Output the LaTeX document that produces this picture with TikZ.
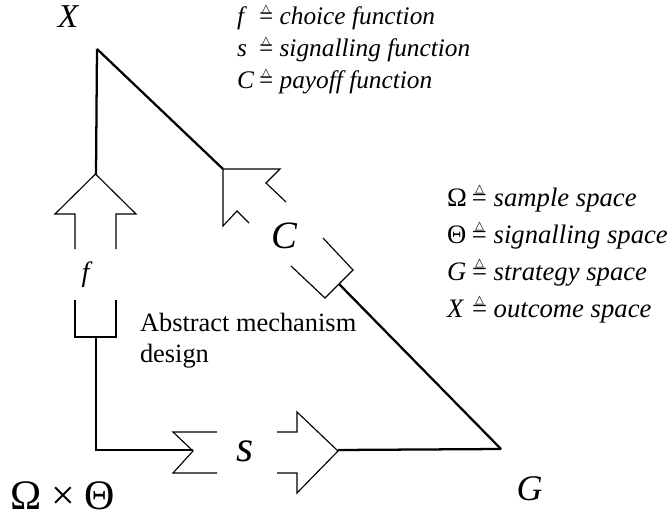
\documentclass[tikz,border=0pt]{standalone}
\usepackage{fontspec}
\setmainfont{Liberation Serif}
\newfontfamily\dejavu{DejaVu Sans}
\newcommand\eqdef{\mbox{\ooalign{=\cr\hidewidth\smash{\raisebox{0.5em}{\dejavu\fontsize{8.7}{8.7}\selectfont △}}\hidewidth\cr}}}
\newcommand\legline[3]{\makebox[#3][l]{#1}\eqdef\ \textit{#2}}
\tikzset{
  lbl/.style={inner sep=0pt, outer sep=0pt},
  mainline/.style={line width=1.7pt, line join=miter},
  outline/.style={line width=0.85pt, line join=miter},
}
\begin{document}
\begin{tikzpicture}[x=0.75pt,y=-0.75pt]
\path[use as bounding box] (0,0) rectangle (671,517);

% vertices
\coordinate (vX) at (97,49);
\coordinate (vO) at (96,450);
\coordinate (vG) at (501,449);
% arrow attachment points
\coordinate (fTip) at (96,174);
\coordinate (fTail) at (96,337);
\coordinate (sTail) at (193,450);
\coordinate (sTip) at (338,450);
\coordinate (cTip) at (223,169);
\coordinate (cTail) at (339,284);

% main lines
\draw[mainline] (vX) -- (fTip);
\draw[mainline] (fTail) -- (vO) -- (sTail);
\draw[mainline] (sTip) -- (vG);
\draw[mainline] (vX) -- (cTip);
\draw[mainline] (cTail) -- (vG);

% up arrow f
\draw[outline] (75,249) -- (75,214) -- (55,214) -- (95.5,174) -- (136,214) -- (116,214) -- (116,249);
\draw[outline] (75,300) -- (75,337) -- (116,337) -- (116,300);
\node[lbl, anchor=base, font=\fontsize{21}{21}\selectfont\itshape] (f) at (85.5,281) {f};

% horizontal arrow s
\draw[outline] (217,432) -- (173,432) -- (193,451) -- (173,473) -- (217,473);
\draw[outline] (277,432) -- (297,432) -- (297,412) -- (338,451) -- (297,493) -- (297,473) -- (277,473);
\node[lbl, anchor=base, font=\fontsize{33}{33}\selectfont\itshape] (s) at (245.5,461) {s};

% diagonal arrow C
\draw[outline] (286,202) -- (266,183) -- (280,169) -- (223,169) -- (223,226) -- (237,211) -- (249,223);
\draw[outline] (323,238) -- (353,270) -- (325,298) -- (291,266);
\node[lbl, anchor=base, font=\fontsize{29}{29}\selectfont\itshape] (C) at (284.5,248) {C};

% vertex labels
\node[lbl, anchor=base, font=\fontsize{25}{25}\selectfont\itshape] (X) at (68,28) {X};
\node[lbl, anchor=base, font=\fontsize{27}{27}\selectfont\itshape] (G) at (529.5,500) {G};
\node[lbl, anchor=base west, font=\fontsize{31.5}{31.5}\selectfont] (OT) at (11,509) {Ω\hspace{0.22em}×\hspace{0.22em}Θ};

% caption
\node[lbl, anchor=base west, align=left, font=\fontsize{19.8}{23.25}\selectfont] (abs) at (140,362) {Abstract mechanism\\design};

% legend top
\begin{scope}[every node/.style={lbl, anchor=base west, font=\fontsize{19}{19}\selectfont}]
\node (l1) at (237,25) {\legline{\textit{f}}{choice function}{16.5pt}};
\node (l2) at (237,57) {\legline{\textit{s}}{signalling function}{16.5pt}};
\node (l3) at (237,89) {\legline{\textit{C}}{payoff function}{16.5pt}};
\end{scope}
% legend right
\begin{scope}[every node/.style={lbl, anchor=base west, font=\fontsize{20}{20}\selectfont}]
\node (r1) at (447,206) {\legline{Ω}{sample space}{18.75pt}};
\node (r2) at (447,243) {\legline{Θ}{signalling space}{18.75pt}};
\node (r3) at (447,280) {\legline{\textit{G}}{strategy space}{18.75pt}};
\node (r4) at (447,317) {\legline{\textit{X}}{outcome space}{18.75pt}};
\end{scope}
\end{tikzpicture}
\end{document}
